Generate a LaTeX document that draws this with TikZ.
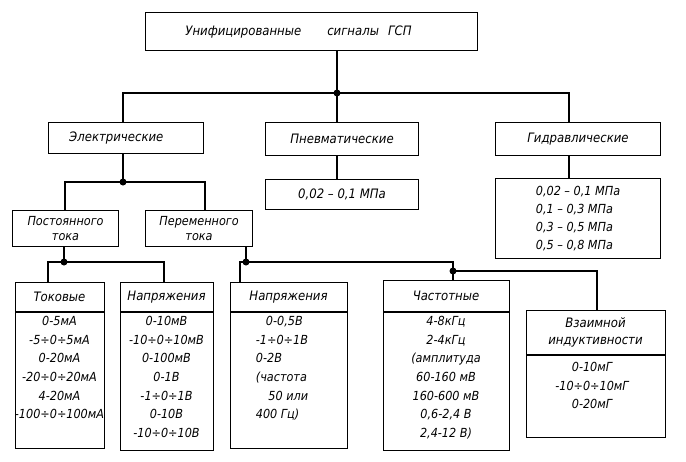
\documentclass[tikz,border=0pt]{standalone}
\usepackage{fontspec}
\setmainfont{DejaVu Sans Condensed}
\begin{document}
\begin{tikzpicture}[x=1pt,y=-1pt,
  box/.style={draw,line width=1.1pt,anchor=north west,inner sep=0pt,font=\itshape\fontsize{13}{15}\selectfont,align=center},
  body/.style={anchor=north,inner sep=0pt,font=\itshape\fontsize{12.5}{18.7}\selectfont,align=center},
  con/.style={line width=1.8pt},
  dot/.style={circle,fill,inner sep=0pt,minimum size=7pt}]
\useasboundingbox (0,0) rectangle (686,461);
\node[box,minimum width=332pt,minimum height=38pt] (title) at (145,12) {Унифицированные\hspace{2em}сигналы\hspace{0.7em}ГСП\hspace{2em}};
\node[box,minimum width=155pt,minimum height=31pt] (el) at (48,122) {Электрические\hspace{1.5em}};
\node[box,minimum width=153pt,minimum height=33pt] (pn) at (265,122) {Пневматические};
\node[box,minimum width=165pt,minimum height=33pt] (gd) at (495,122) {Гидравлические};
\node[box,minimum width=153pt,minimum height=30pt] (pnv) at (265,179) {0,02 -- 0,1 МПа};
\node[box,minimum width=165pt,minimum height=80pt,align=left,font=\itshape\fontsize{12.5}{18}\selectfont] (gdv) at (495,178) {0,02 -- 0,1 МПа\\0,1 -- 0,3 МПа\\0,3 -- 0,5 МПа\\0,5 -- 0,8 МПа\hspace{2.5em}};
\node[box,minimum width=106pt,minimum height=36pt,font=\itshape\fontsize{12.5}{15}\selectfont] (post) at (12,210) {Постоянного\\тока};
\node[box,minimum width=107pt,minimum height=36pt,font=\itshape\fontsize{12.5}{15}\selectfont] (per) at (145,210) {Переменного\\тока};
% lower boxes
\node[box,minimum width=89pt,minimum height=166pt] (tok) at (15,282) {};
\node[box,minimum width=93pt,minimum height=168pt] (nap1) at (120,282) {};
\node[box,minimum width=117pt,minimum height=166pt] (nap2) at (230,282) {};
\node[box,minimum width=126pt,minimum height=170pt] (chas) at (383,280) {};
\node[box,minimum width=139pt,minimum height=127pt] (vz) at (526,310) {};
\draw[line width=1.1pt] (15,312)--(104,312) (120,312)--(213,312) (230,312)--(347,312) (383,312)--(509,312) (526,355)--(665,355);
\node[box,anchor=center,draw=none] (tokh) at (59.5,297) {Токовые};
\node[box,anchor=center,draw=none] (nap1h) at (166.5,297) {Напряжения};
\node[box,anchor=center,draw=none] (nap2h) at (288.5,297) {Напряжения};
\node[box,anchor=center,draw=none] (chash) at (446,296) {Частотные};
\node[box,anchor=center,draw=none,font=\itshape\fontsize{13}{17}\selectfont] (vzh) at (595.5,332) {Взаимной\\индуктивности};
\node[body] (tokb) at (59.5,316) {0-5мА\\-5÷0÷5мА\\0-20мА\\-20÷0÷20мА\\4-20мА\\-100÷0÷100мА};
\node[body] (nap1b) at (166.5,316) {0-10мВ\\-10÷0÷10мВ\\0-100мВ\\0-1В\\-1÷0÷1В\\0-10В\\-10÷0÷10В};
\node[body,align=left] (nap2b) at (282,316) {\hspace{0.8em}0-0,5В\\-1÷0÷1В\\0-2В\\(частота\\\hspace{1em}50 или\\400 Гц)};
\node[body] (chasb) at (446,316) {4-8кГц\\2-4кГц\\(амплитуда\\60-160 мВ\\160-600 мВ\\0,6-2,4 В\\2,4-12 В)};
\node[body] (vzb) at (592,362) {0-10мГ\\-10÷0÷10мГ\\0-20мГ};
% junctions
\node[dot] (j1) at (337,93) {};
\node[dot] (j2) at (123,182) {};
\node[dot] (j3) at (64,262) {};
\node[dot] (j4) at (246,262) {};
\node[dot] (j5) at (453,271) {};
\coordinate (a1) at (123,93); \coordinate (a2) at (569,93);
\coordinate (b1) at (65,182); \coordinate (b2) at (205,182);
\coordinate (c1) at (48,262); \coordinate (c2) at (164,262);
\coordinate (d1) at (240,262); \coordinate (d2) at (453,262);
\coordinate (e2) at (597,271);
\draw[con] (title.south -| j1) -- (j1.center);
\draw[con] (el.north -| a1) -- (a1) -- (a2) -- (gd.north -| a2);
\draw[con] (j1.center) -- (pn.north -| j1);
\draw[con] (pn.south -| j1) -- (pnv.north -| j1);
\draw[con] (gd.south -| a2) -- (gdv.north -| a2);
\draw[con] (el.south -| j2) -- (j2.center);
\draw[con] (post.north -| b1) -- (b1) -- (b2) -- (per.north -| b2);
\draw[con] (post.south -| j3) -- (j3.center);
\draw[con] (tok.north -| c1) -- (c1) -- (c2) -- (nap1.north -| c2);
\draw[con] (per.south -| j4) -- (j4.center);
\draw[con] (nap2.north -| d1) -- (d1) -- (d2) -- (j5.center) -- (chas.north -| j5);
\draw[con] (j5.center) -- (e2) -- (vz.north -| e2);
\end{tikzpicture}
\end{document}
